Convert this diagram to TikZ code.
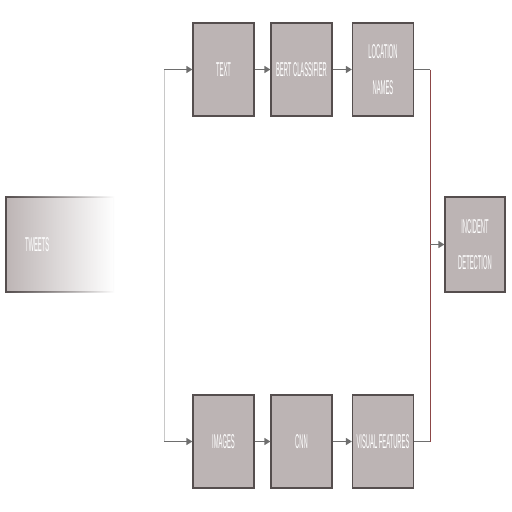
\documentclass[tikz,border=0pt]{standalone}
\usepackage{fontspec}
\newfontfamily\boxfont{Liberation Sans}[FakeStretch=0.29]
\usetikzlibrary{arrows.meta,fadings}
\definecolor{boxfill}{RGB}{188,180,180}
\definecolor{boxedge}{RGB}{85,78,78}
\definecolor{flowgray}{RGB}{110,110,110}
\definecolor{splitgray}{RGB}{200,200,200}
\definecolor{joinred}{RGB}{140,70,70}
\tikzfading[name=faderight, left color=transparent!0, middle color=transparent!10, right color=transparent!100]

\begin{document}
\begin{tikzpicture}[x=1pt, y=-1pt,
  stage/.style={draw=boxedge, line width=1.2pt, fill=boxfill, text=white, minimum width=61pt, minimum height=93pt, inner sep=0pt, align=center, font=\boxfont\fontsize{20}{36}\selectfont},
  flow/.style={draw=flowgray, line width=1.4pt, -{Triangle[length=6pt, width=7pt]}},
  feed/.style={draw=flowgray, line width=1.4pt}]

\useasboundingbox (0, 0) rectangle (512, 512);

\node[stage, minimum width=108pt, minimum height=95pt, text width=70pt, align=left, inner xsep=19pt, path fading=faderight] (tweets) at (60, 244.5) {TWEETS};

\node[stage] (text) at (223.5, 69.5) {TEXT};
\node[stage] (bert) at (301.5, 69.5) {BERT CLASSIFIER};
\node[stage] (locnames) at (383, 69.5) {LOCATION\\NAMES};

\node[stage] (images) at (223.5, 441.5) {IMAGES};
\node[stage] (cnn) at (301.5, 441.5) {CNN};
\node[stage] (visual) at (383, 441.5) {VISUAL FEATURES};

\node[stage, minimum height=95pt, minimum width=60pt] (incident) at (475, 244.5) {INCIDENT\\DETECTION};

\coordinate (ltop) at (164, 69.5);
\coordinate (lbot) at (164, 441.5);
\coordinate (rtop) at (430, 69.5);
\coordinate (rbot) at (430, 441.5);
\coordinate (rmid) at (430, 244.5);

\draw[splitgray, line width=0.8pt] (ltop) -- (lbot);
\draw[joinred, line width=0.7pt] (rtop) -- (rbot);

\draw[flow] (ltop) -- (text);
\draw[flow] (text) -- (bert);
\draw[flow] (bert) -- (locnames);
\draw[feed] (locnames) -- (rtop);

\draw[flow] (lbot) -- (images);
\draw[flow] (images) -- (cnn);
\draw[flow] (cnn) -- (visual);
\draw[feed] (visual) -- (rbot);

\draw[flow] (rmid) -- (incident);

\end{tikzpicture}
\end{document}
